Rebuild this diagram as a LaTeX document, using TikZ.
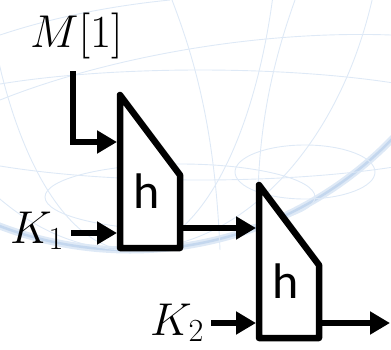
\documentclass[tikz,border=0pt]{standalone}
\usepackage{fix-cm}
\usepackage{fontspec}
\newfontfamily\calibri{Carlito}
\usetikzlibrary{arrows.meta}

\definecolor{globeblue}{RGB}{222,233,246}
\definecolor{globeedge}{RGB}{196,215,238}

\begin{document}
\begin{tikzpicture}[x=1pt, y=-1pt,
    wire/.style={line width=6.5pt, -{Triangle[length=20pt, width=22pt]}},
    hbox/.style={draw, line width=6.5pt, line join=round, fill=white},
    hlabel/.style={font=\calibri\fontsize{50}{56}\selectfont, anchor=base, inner sep=0pt},
    klabel/.style={font=\fontsize{46}{52}\selectfont, anchor=base west, inner sep=0pt},
    globe/.style={draw=globeblue, line width=0.9pt}
]
\useasboundingbox (0,0) rectangle (391,349);

% faint globe in the background
\begin{scope}
\clip (0,0) rectangle (391,349);
\draw[draw=globeblue, line width=7pt] (130,-115) circle (365);
\draw[draw=globeedge, line width=2.5pt] (130,-115) circle (365);
\draw[globe] (200,125) ellipse (300 and 55);
\draw[globe] (180,197) ellipse (135 and 33);
\draw[globe] (305,172) ellipse (70 and 27);
\draw[globe] (130,-115) ellipse (150 and 365);
\draw[globe] (130,-115) ellipse (255 and 365);
\draw[globe] (172,0) .. controls (195,60) and (215,130) .. (220,250);
\draw[globe] (295,0) .. controls (270,70) and (255,140) .. (258,240);
\draw[globe] (0,100) .. controls (100,60) and (250,30) .. (391,35);
\draw[globe] (0,35) .. controls (60,15) and (120,5) .. (170,0);
\end{scope}

% labels
\node[klabel] (m1) at (30,47) {$M[1]$};
\node[klabel] (k1) at (10,243) {$K_1$};
\node[klabel] (k2) at (150,335) {$K_2$};

% first h block
\draw[hbox] (120,95) -- (180,175) -- (180,248) -- (120,248) -- cycle;
\node[hlabel] (h1) at (147,208) {h};

% second h block
\draw[hbox] (259,185) -- (319,265) -- (319,338) -- (259,338) -- cycle;
\node[hlabel] (h2) at (286,298) {h};

% ports
\coordinate (mtop) at (73,71);
\coordinate (mcorner) at (73,142);
\coordinate (h1m) at (117,142);
\coordinate (k1end) at (71,233);
\coordinate (h1k) at (117,233);
\coordinate (h1out) at (180,228);
\coordinate (h2in) at (256,228);
\coordinate (k2end) at (211,323);
\coordinate (h2k) at (256,323);
\coordinate (h2out) at (319,323);
\coordinate (hend) at (390,323);

% connectors
\draw[wire] (mtop) -- (mcorner) -- (h1m);
\draw[wire] (k1end) -- (h1k);
\draw[wire] (h1out) -- (h2in);
\draw[wire] (k2end) -- (h2k);
\draw[wire] (h2out) -- (hend);
\end{tikzpicture}
\end{document}
